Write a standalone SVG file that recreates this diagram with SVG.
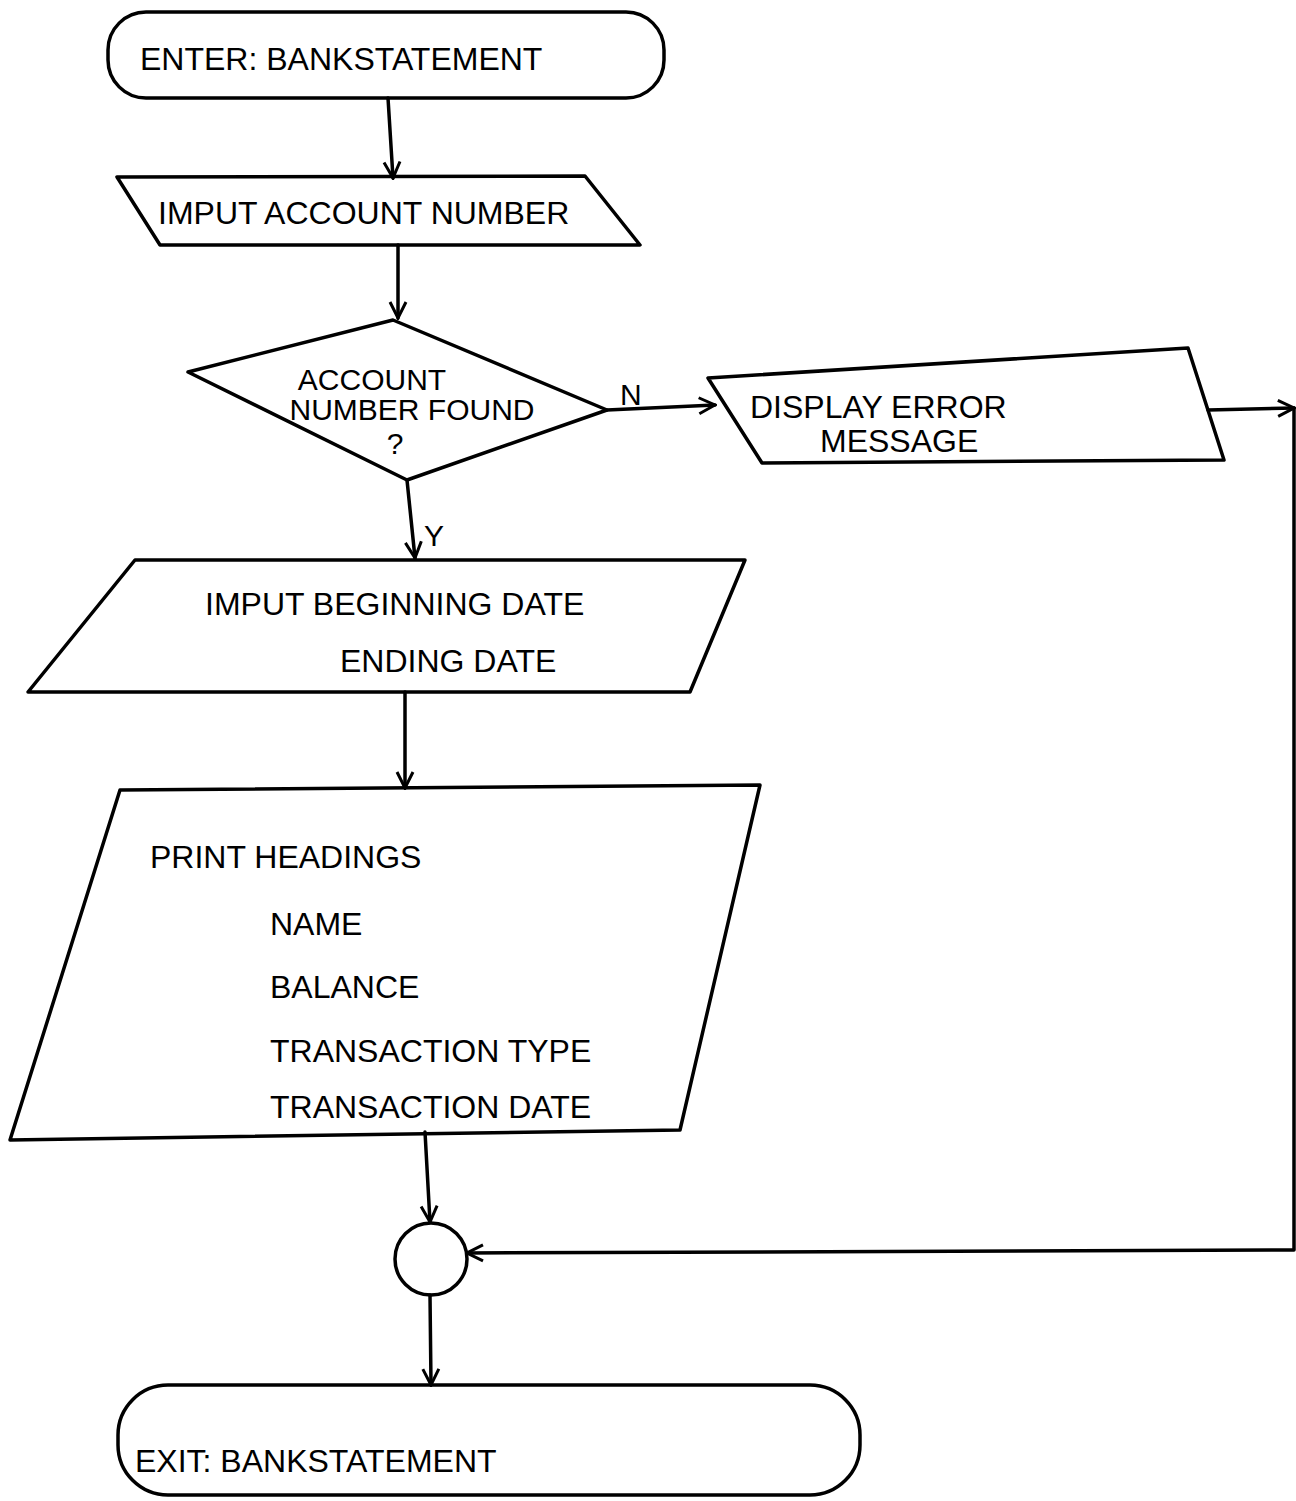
<svg xmlns="http://www.w3.org/2000/svg" width="1296" height="1501" viewBox="0 0 1296 1501">
<defs>
<style>
.s{fill:none;stroke:#000;stroke-width:3.5;stroke-linejoin:round;stroke-linecap:round}
.t{font-family:"Liberation Sans",Arial,sans-serif;font-size:32px;fill:#000}
.l{font-family:"Liberation Sans",Arial,sans-serif;font-size:30px;fill:#000}
</style>
<marker id="a" viewBox="0 0 20 20" refX="18" refY="10" markerWidth="20" markerHeight="20" markerUnits="userSpaceOnUse" orient="auto">
<path d="M2,2 L18,10 L2,18" fill="none" stroke="#000" stroke-width="3"/>
</marker>
</defs>
<rect width="1296" height="1501" fill="#fff"/>
<g id="start">
<rect class="s" x="108" y="12" width="556" height="86" rx="38"/>
<text class="t" x="140" y="70">ENTER: BANKSTATEMENT</text>
</g>
<g id="input-account">
<path class="s" d="M117,177 L585,176 L640,245 L160,245 Z"/>
<text class="t" x="158" y="224" font-size="26">IMPUT ACCOUNT NUMBER</text>
</g>
<g id="decision">
<path class="s" d="M393,320 L607,410 L407,480 L188,372 Z"/>
<text class="l" x="372" y="390" font-size="23" text-anchor="middle">ACCOUNT</text>
<text class="l" x="412" y="420" font-size="22" text-anchor="middle">NUMBER FOUND</text>
<text class="l" x="395" y="454" font-size="23" text-anchor="middle">?</text>
</g>
<g id="error">
<path class="s" d="M708,378 L1188,348 L1224,460 L762,463 Z"/>
<text class="t" x="750" y="418" font-size="30">DISPLAY ERROR</text>
<text class="t" x="820" y="452" font-size="30">MESSAGE</text>
</g>
<g id="input-dates">
<path class="s" d="M135,560 L745,560 L690,692 L28,692 Z"/>
<text class="t" x="205" y="615">IMPUT BEGINNING DATE</text>
<text class="t" x="340" y="672">ENDING DATE</text>
</g>
<g id="print">
<path class="s" d="M120,790 L760,785 L680,1130 L10,1140 Z"/>
<text class="t" x="150" y="868">PRINT HEADINGS</text>
<text class="t" x="270" y="935">NAME</text>
<text class="t" x="270" y="998">BALANCE</text>
<text class="t" x="270" y="1062">TRANSACTION TYPE</text>
<text class="t" x="270" y="1118">TRANSACTION DATE</text>
</g>
<g id="connector">
<circle class="s" cx="431" cy="1259" r="36"/>
</g>
<g id="end">
<rect class="s" x="118" y="1385" width="742" height="110" rx="50"/>
<text class="t" x="135" y="1472">EXIT: BANKSTATEMENT</text>
</g>
<g id="connectors">
<path class="s" d="M388,98 L393,178" marker-end="url(#a)"/>
<path class="s" d="M398,245 L398,318" marker-end="url(#a)"/>
<path class="s" d="M607,410 L715,405" marker-end="url(#a)"/>
<text class="l" x="620" y="405">N</text>
<path class="s" d="M407,480 L415,558" marker-end="url(#a)"/>
<text class="l" x="424" y="546">Y</text>
<path class="s" d="M405,692 L405,788" marker-end="url(#a)"/>
<path class="s" d="M425,1132 L430,1222" marker-end="url(#a)"/>
<path class="s" d="M430,1295 L431,1385" marker-end="url(#a)"/>
<path class="s" d="M1208,410 L1294,408" marker-end="url(#a)"/>
<path class="s" d="M1294,408 L1294,1250 L467,1253" marker-end="url(#a)"/>
</g>
</svg>
